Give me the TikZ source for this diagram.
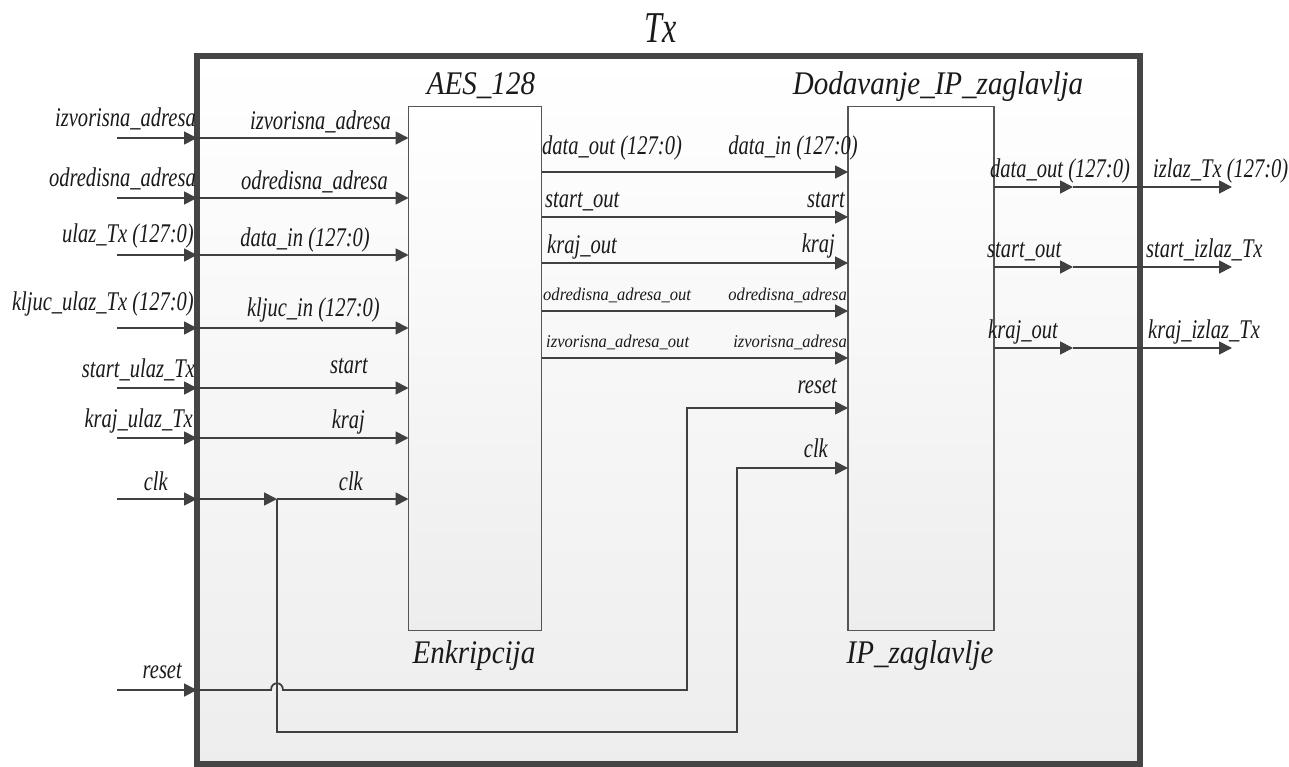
\documentclass[tikz,border=0pt]{standalone}
\usepackage{fontspec}
\usepackage{graphicx}
\setmainfont{Liberation Serif}
\newcommand\LB[1]{\scalebox{0.76}[1]{\itshape #1}}
\newcommand\SB[1]{\scalebox{0.92}[1]{\itshape #1}}
\newcommand\TB[1]{\scalebox{0.88}[1]{\itshape #1}}
\newcommand\XB[1]{\scalebox{0.73}[1]{\itshape #1}}
\usetikzlibrary{arrows.meta}
\definecolor{linec}{HTML}{404040}
\definecolor{txc}{HTML}{454545}
\definecolor{blkc}{HTML}{555555}
\definecolor{txtc}{HTML}{1A1A1A}
\begin{document}
\begin{tikzpicture}[x=1pt,y=-1pt,
  arr/.style={draw=linec, line width=1.8pt, -{Triangle[length=13pt,width=13pt]}},
  lbl/.style={font=\fontsize{27}{30}\selectfont, inner sep=0, text=txtc},
  sml/.style={font=\fontsize{18}{20}\selectfont, inner sep=0, text=txtc},
  ttl/.style={font=\fontsize{33}{36}\selectfont, inner sep=0, text=txtc, anchor=base},
  blk/.style={draw=blkc, line width=1.5pt, top color=white, bottom color=black!7, inner sep=0, outer sep=0, anchor=north west},
  le/.style={lbl, anchor=base east},
  lw/.style={lbl, anchor=base west},
  se/.style={sml, anchor=base east},
  sw/.style={sml, anchor=base west}]
\useasboundingbox (0,0) rectangle (1289,767);
% boxes
\node[draw=txc, line width=6pt, top color=white, bottom color=black!7, inner sep=0, outer sep=0,
      minimum width=943pt, minimum height=707.5pt, anchor=north west] (tx) at (197,56.5) {};
\node[blk, minimum width=133pt, minimum height=524pt] (aes) at (408.5,106.5) {};
\node[blk, minimum width=146pt, minimum height=524pt] (ip) at (848,106.5) {};
% titles
\node[font=\fontsize{44}{48}\selectfont, inner sep=0, text=txtc, anchor=base] (ttx) at (661,43) {\XB{Tx}};
\node[ttl] (taes) at (481,95) {\TB{AES\_128}};
\node[ttl] (tip) at (938,95) {\TB{Dodavanje\_IP\_zaglavlja}};
\node[ttl] (taes2) at (474,663) {\TB{Enkripcija}};
\node[ttl] (tip2) at (920,663) {\TB{IP\_zaglavlje}};
% input coordinates
\foreach \n/\y in {1/138,2/198,3/255,4/328,5/388,6/438,7/499,8/690}
  \coordinate (in\n) at (117,\y);
\foreach \n in {1,2,3,4,5,6}{
  \draw[arr] (in\n) -- (tx.west |- in\n);
  \draw[arr] (tx.west |- in\n) -- (aes.west |- in\n);
}
% clk
\coordinate (clkj) at (277,499);
\coordinate (clkc) at (737,732);
\coordinate (clkp) at (737,468);
\draw[arr] (in7) -- (tx.west |- in7);
\draw[arr] (tx.west |- in7) -- (clkj);
\draw[arr] (clkj) -- (aes.west |- in7);
\draw[arr] (clkj) |- (clkc) -- (clkp) -- (ip.west |- clkp);
% reset
\coordinate (rsta) at (271,690);
\coordinate (rstb) at (283,690);
\coordinate (rstc) at (687,690);
\coordinate (rstp) at (687,408);
\draw[arr] (in8) -- (tx.west |- in8);
\draw[arr] (tx.west |- in8) -- (rsta) .. controls (271,681) and (283,681) .. (rstb) -- (rstc) -- (rstp) -- (ip.west |- rstp);
% AES -> IP
\foreach \n/\y in {1/172,2/217,3/263,4/311,5/358}{
  \coordinate (o\n) at (600,\y);
  \draw[arr] (aes.east |- o\n) -- (ip.west |- o\n);
}
% IP outputs
\foreach \n/\y in {1/187,2/267,3/348}{
  \coordinate (m\n) at (1073,\y);
  \coordinate (e\n) at (1232,\y);
  \draw[arr] (ip.east |- m\n) -- (m\n);
  \draw[arr] (m\n) -- (e\n);
}
% left external labels
\node[le] (l1) at (196,127) {\LB{izvorisna\_adresa}};
\node[le] (l2) at (196,187) {\LB{odredisna\_adresa}};
\node[le] (l3) at (194,243) {\LB{ulaz\_Tx (127:0)}};
\node[le] (l4) at (194,310) {\LB{kljuc\_ulaz\_Tx (127:0)}};
\node[le] (l5) at (195,377) {\LB{start\_ulaz\_Tx}};
\node[le] (l6) at (193,427) {\LB{kraj\_ulaz\_Tx}};
\node[le] (l7) at (168,490) {\LB{clk}};
\node[le] (l8) at (182,678) {\LB{reset}};
% AES inputs
\node[le] (a1) at (391,130) {\LB{izvorisna\_adresa}};
\node[le] (a2) at (388,190) {\LB{odredisna\_adresa}};
\node[le] (a3) at (370,247) {\LB{data\_in (127:0)}};
\node[le] (a4) at (380,316) {\LB{kljuc\_in (127:0)}};
\node[le] (a5) at (368,373) {\LB{start}};
\node[le] (a6) at (365,428) {\LB{kraj}};
\node[le] (a7) at (363,490) {\LB{clk}};
% AES outputs
\node[lw] (b1) at (542,155) {\LB{data\_out (127:0)}};
\node[lw] (b2) at (545,208) {\LB{start\_out}};
\node[lw] (b3) at (547,253) {\LB{kraj\_out}};
\node[sw] (b4) at (543,300) {\SB{odredisna\_adresa\_out}};
\node[sw] (b5) at (546,347) {\SB{izvorisna\_adresa\_out}};
% IP inputs
\node[le] (c1) at (858,155) {\LB{data\_in (127:0)}};
\node[le] (c2) at (845,208) {\LB{start}};
\node[le] (c3) at (835,252) {\LB{kraj}};
\node[se] (c4) at (847,300) {\SB{odredisna\_adresa}};
\node[se] (c5) at (847,347) {\SB{izvorisna\_adresa}};
\node[le] (c6) at (837,393) {\LB{reset}};
\node[le] (c7) at (828,457) {\LB{clk}};
% IP outputs labels
\node[lw] (d1) at (990,178) {\LB{data\_out (127:0)}};
\node[lw] (d2) at (987,257) {\LB{start\_out}};
\node[lw] (d3) at (988,338) {\LB{kraj\_out}};
\node[lw] (f1) at (1153,178) {\LB{izlaz\_Tx (127:0)}};
\node[lw] (f2) at (1146,257) {\LB{start\_izlaz\_Tx}};
\node[lw] (f3) at (1148,338) {\LB{kraj\_izlaz\_Tx}};
\end{tikzpicture}
\end{document}
